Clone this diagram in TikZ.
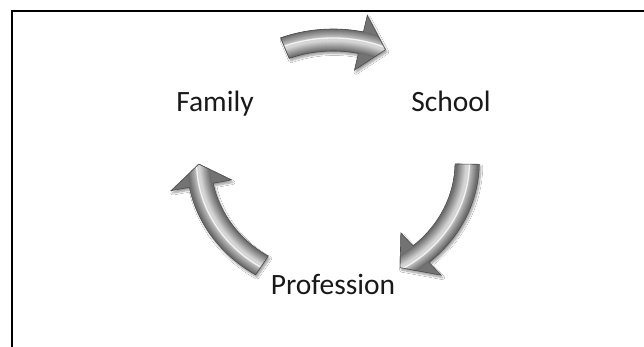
\documentclass[tikz,border=0pt]{standalone}
\usepackage{fontspec}
\setmainfont{Carlito}
\usetikzlibrary{shadows.blur}
\newcommand\cycpath[3]{(#1:133pt) arc[start angle=#1,end angle=#2,radius=133pt] -- (#2:150pt) -- (#3:122pt) -- (#2:94pt) -- (#2:111pt) arc[start angle=#2,end angle=#1,radius=111pt] -- cycle}
\newcommand\cycarrow[3]{%
  \path[blur shadow={shadow xshift=1.5pt,shadow yshift=-2.5pt,shadow blur steps=8,shadow opacity=40}] \cycpath{#1}{#2}{#3};
  \begin{scope}
    \clip \cycpath{#1}{#2}{#3};
    \fill[black!55] (-250pt,-250pt) rectangle (250pt,250pt);
    \foreach \k in {0,...,13} {
      \pgfmathsetmacro\lw{22-1.5*\k}
      \pgfmathsetmacro\sh{58-3.2*\k}
      \draw[line width=\lw pt,black!\sh] (#1:122pt) arc[start angle=#1,end angle=#3,radius=122pt];
    }
    \draw[line width=1.3pt,white,opacity=0.8] (#1:124pt) arc[start angle=#1,end angle=#3,radius=124pt];
  \end{scope}
  \draw[line width=0.6pt,black!70] \cycpath{#1}{#2}{#3};
}
\tikzset{label text/.style={font=\fontsize{29.5}{34}\selectfont, text=black!90, anchor=base, inner sep=0pt}}
\begin{document}
\begin{tikzpicture}[x=1pt,y=1pt]
  \useasboundingbox (0,0) rectangle (644,347);
  \fill[white] (0,0) rectangle (644,347);
  \draw[line width=2pt] (12,-5) -- (12,336) -- (650,336);
  \begin{scope}[shift={(333,185)},xscale=1.1]
    \cycarrow{111}{78}{67}
    \cycarrow{-1}{-49}{-60}
    \cycarrow{238}{191}{181}
  \end{scope}
  \node[label text] (family) at (215,235) {Family};
  \node[label text] (school) at (451,235) {School};
  \node[label text] (profession) at (333,52) {Profession};
\end{tikzpicture}
\end{document}
